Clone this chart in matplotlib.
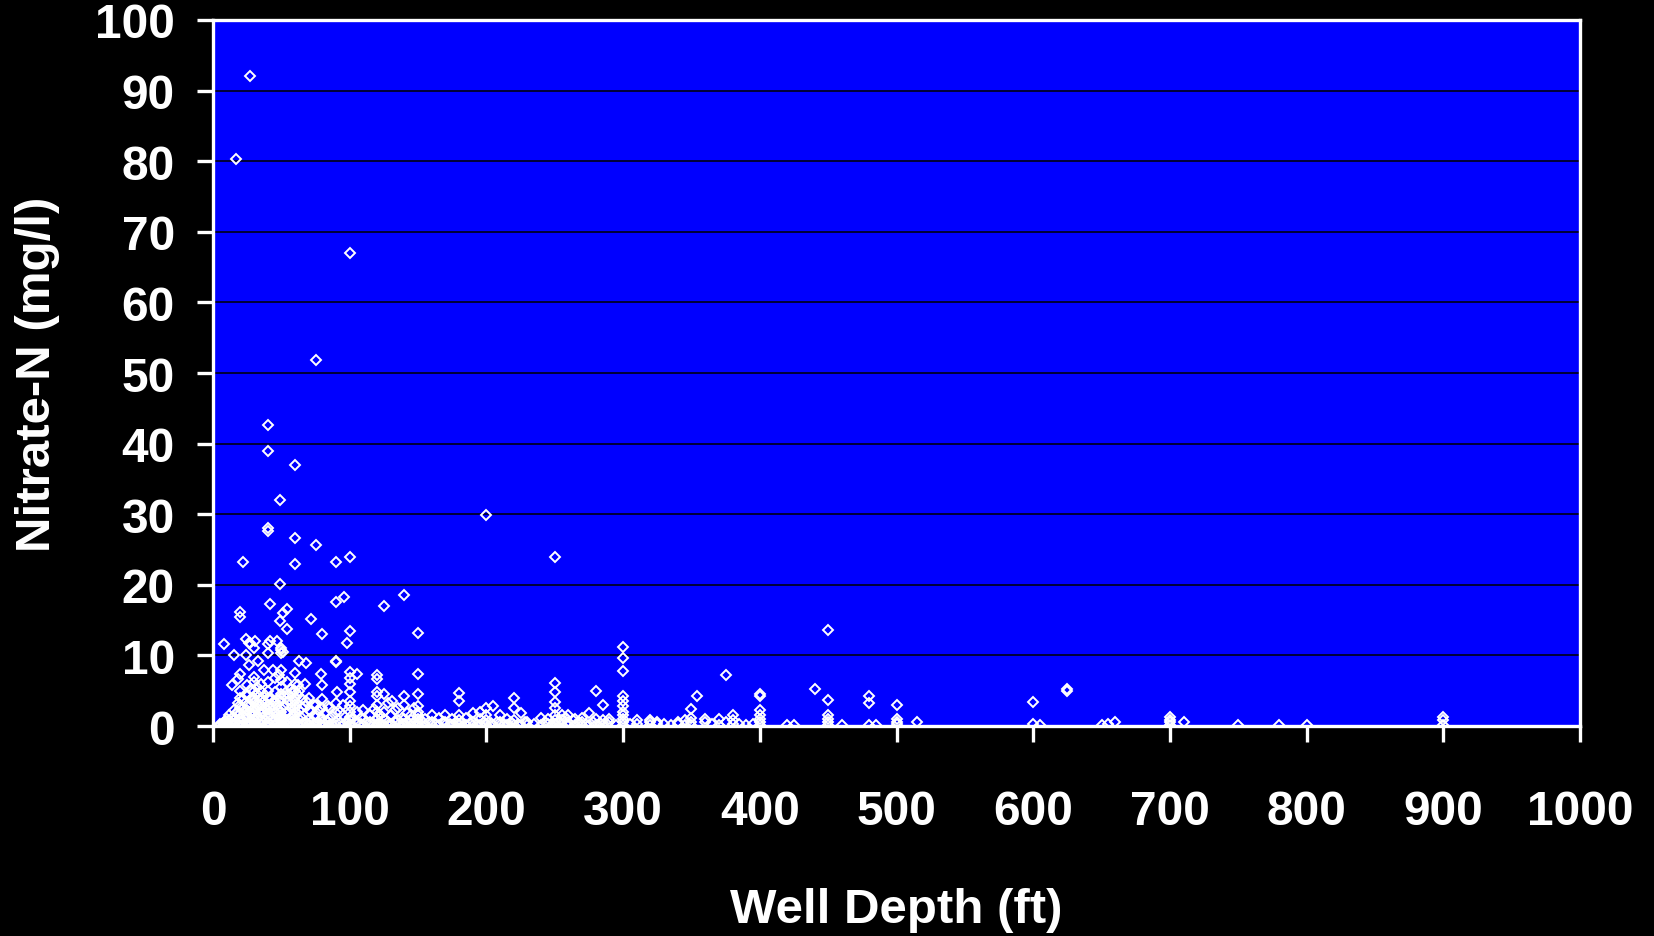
import numpy as np
import matplotlib
matplotlib.use('Agg')
import matplotlib.pyplot as plt

# well depth (ft) and nitrate-N readings (mg/l) at that depth
shallow_depth = [5, 7, 8, 10, 12, 14, 15, 17, 18, 20, 22, 24, 25, 26, 27, 28,
                 30, 31, 32, 33, 35, 37, 38, 40, 42, 44, 45, 47, 48, 49, 50, 51,
                 52, 54, 55, 57, 58, 60, 62, 63, 65, 67, 68, 70, 72, 74, 75, 77,
                 79, 80, 82, 84, 85, 87, 90, 91, 93, 95, 96, 98, 100]
shallow_no3 = [[0.2, 0.1, 0.3], [0.1, 0.4], [11.6, 0.5, 0.2], [1.0, 0.3, 0.1, 0.6],
               [0.8, 0.2, 1.5, 0.1], [5.8, 0.4, 1.2], [10.0, 1.0, 0.3, 2.2, 0.1],
               [80.3, 0.5, 1.8], [6.7, 2.0, 0.2, 3.2],
               [16.1, 15.5, 7.4, 5.0, 4.0, 3.0, 1.8, 0.5, 0.1, 2.5, 1.2],
               [23.2, 2.5, 0.8, 0.2, 3.8], [12.3, 10.0, 1.5, 0.3, 4.5],
               [5.8, 3.0, 1.2, 0.3, 0.1, 2.2, 4.2], [11.7, 8.6, 2.8, 0.6],
               [92.1, 11.8, 1.9, 0.2], [3.8, 1.5, 0.4, 5.2],
               [11.1, 7.0, 5.0, 4.0, 3.2, 2.0, 1.0, 0.4, 0.1, 6.2, 2.6, 1.5],
               [12.1, 0.8, 3.5], [5.5, 2.5, 0.2, 4.6], [9.2, 1.2, 3.0],
               [6.0, 4.0, 3.0, 1.8, 0.8, 0.3, 0.1, 5.0, 2.4], [7.9, 2.0, 0.5, 3.6],
               [2.5, 0.2, 4.4],
               [42.6, 38.9, 28.0, 27.6, 11.6, 10.4, 5.0, 3.0, 2.2, 1.2, 0.5, 0.1, 4.0, 6.2, 1.8],
               [17.3, 12.0, 4.0, 1.5, 0.3, 2.6], [8.0, 2.8, 0.6, 3.4],
               [6.8, 2.0, 1.0, 0.2, 3.5, 4.8], [12.1, 3.0, 0.4, 1.6], [7.2, 2.2, 0.8],
               [32.0, 20.1, 14.9, 1.2, 0.2],
               [11.0, 10.8, 10.4, 8.0, 5.5, 4.5, 3.5, 2.5, 1.5, 0.8, 0.3, 0.1, 6.5, 4.0, 2.0],
               [16.0, 10.5, 1.0], [4.2, 0.5, 2.8], [16.6, 13.8, 6.2, 1.8, 0.2],
               [3.5, 2.0, 0.8, 0.1, 4.6], [2.6, 0.4, 5.2], [4.8, 1.4, 0.2, 3.4],
               [36.9, 26.6, 22.9, 7.5, 6.0, 4.0, 3.0, 2.0, 1.0, 0.4, 0.1, 5.0, 2.5, 1.5, 3.5],
               [5.8, 1.2, 0.3, 4.4], [9.2, 5.0, 2.2], [2.5, 1.2, 0.2, 3.8], [6.0, 0.6, 2.8],
               [8.9, 3.5, 0.4], [4.0, 1.0, 0.3, 0.1, 2.2], [15.2, 2.0, 0.5], [3.0, 0.2, 1.4],
               [51.9, 25.6, 3.0, 1.5, 0.3], [2.2, 0.6], [7.4, 1.0, 0.2],
               [13.0, 5.8, 3.8, 2.5, 1.2, 0.5, 0.1], [1.8, 0.3], [2.8, 0.6], [2.5, 1.0, 0.2],
               [1.4, 0.3], [23.2, 17.5, 9.2, 9.0, 3.2, 1.8, 0.5, 0.1], [4.8], [2.0, 0.4],
               [3.0, 1.5, 0.2], [18.3], [11.7, 0.6],
               [67.0, 24.0, 13.5, 7.6, 5.9, 4.8, 3.5, 2.8, 2.0, 1.3, 0.8, 0.3, 0.1, 6.8]]

mid_depth = [102, 105, 108, 110, 112, 115, 118, 120, 122, 125, 128, 130, 131, 133,
             135, 138, 140, 142, 145, 147, 150, 152, 155, 158, 160, 163, 165, 168,
             170, 173, 175, 178, 180, 182, 185, 188, 190, 193, 195, 198, 200, 203,
             205, 208, 210, 213, 215, 218, 220, 223, 225, 228, 230, 235, 240, 243,
             245, 248]
mid_no3 = [[1.0, 0.2], [7.4, 2.0, 0.5], [1.2, 0.3], [2.2, 1.0, 0.2], [0.6],
           [1.5, 0.5, 0.1], [2.4, 0.3], [7.2, 6.7, 4.8, 4.3, 3.0, 2.0, 1.0, 0.3, 0.1],
           [1.6, 0.4], [17.0, 4.5, 2.0, 1.0, 0.2], [3.2, 0.6], [1.5, 0.3, 0.1], [3.6],
           [2.2, 0.5], [2.5, 0.8, 0.2], [1.2, 0.3], [18.6, 4.3, 3.0, 1.0, 0.3, 0.1],
           [1.8, 0.5], [1.5, 0.2, 0.8], [2.6, 0.4],
           [13.2, 7.3, 4.5, 2.8, 2.0, 1.5, 1.0, 0.5, 0.2, 0.1], [0.8], [1.0, 0.2], [0.5],
           [0.6, 1.5, 0.1], [0.3], [1.2, 0.2], [0.5], [0.5, 1.5, 0.1], [0.3], [1.0, 0.2],
           [0.6], [4.7, 3.6, 1.5, 0.8, 0.3, 0.1], [0.5], [1.2, 0.2], [0.4],
           [0.5, 1.8, 0.1], [0.3], [1.0, 2.0, 0.2], [0.6], [29.9, 2.5, 1.5, 0.8, 0.3, 0.1],
           [0.4], [2.9, 0.2], [0.5], [0.5, 1.5, 0.1], [0.3], [1.0, 0.2], [0.6],
           [3.9, 2.5, 0.8, 0.1], [0.3], [1.8, 0.2], [0.5], [0.5, 0.1], [0.3], [1.2, 0.2],
           [0.6], [1.0, 0.3], [0.1]]

deep_depth = [250, 253, 255, 258, 260, 263, 265, 268, 270, 273, 275, 278, 280, 283,
              285, 288, 290, 295, 300, 305, 310, 320, 325, 330, 335, 340, 345, 350,
              354, 360, 365, 370, 375, 380, 385, 390, 395, 400, 420, 425, 440, 450,
              460, 480, 485, 500, 515, 600, 605, 625, 650, 655, 660, 700, 710, 750,
              780, 800, 900]
deep_no3 = [[23.9, 6.1, 4.8, 3.4, 2.5, 1.5, 0.8, 0.3, 0.1], [0.5], [0.8, 1.6, 0.2],
            [1.2, 0.3], [1.5, 0.5, 0.1], [0.8], [1.0, 0.2], [0.5], [0.5, 1.2, 0.1], [0.3],
            [1.8, 0.2], [0.6], [4.9, 1.0, 0.2], [0.4], [3.0, 0.8, 0.1], [0.3], [0.5, 1.0],
            [0.2], [11.2, 9.7, 7.8, 4.2, 3.5, 2.8, 2.0, 1.5, 1.0, 0.5, 0.2], [0.3],
            [0.3, 0.8], [0.8, 0.5, 0.2], [0.5, 0.3], [0.3], [0.2], [0.3, 0.5], [0.8, 0.2],
            [2.4, 1.2, 0.5, 0.2], [4.3], [0.5, 1.0], [0.3], [1.0, 0.2], [7.2, 0.5],
            [1.5, 0.8, 0.3], [0.3], [0.2], [0.3], [4.6, 4.3, 2.2, 1.6, 1.0, 0.5, 0.2],
            [0.2], [0.2], [5.2], [13.6, 3.7, 1.5, 1.0, 0.5, 0.2], [0.2], [4.3, 3.3, 0.2],
            [0.2], [3.0, 1.0, 0.6, 0.3], [0.6], [3.4, 0.3], [0.2], [5.2, 4.9], [0.2],
            [0.3], [0.5], [1.3, 0.9, 0.5, 0.2], [0.5], [0.2], [0.2], [0.2], [1.3, 0.9, 0.2]]

x_ticks = list(range(0, 1001, 100))
y_ticks = list(range(0, 101, 10))

xs, ys = [], []
for dep, vals in [(shallow_depth, shallow_no3), (mid_depth, mid_no3), (deep_depth, deep_no3)]:
    for d, v in zip(dep, vals):
        xs.extend([d] * len(v))
        ys.extend(v)

plt.rcParams['font.family'] = ['Liberation Sans', 'DejaVu Sans']
plt.rcParams['font.weight'] = 'bold'

fig = plt.figure(figsize=(16.54, 9.37), dpi=100)
fig.patch.set_facecolor('black')
ax = fig.add_axes([0.1288, 0.2241, 0.8265, 0.7535])
ax.set_facecolor('#0000FF')

ax.plot(xs, ys, 'D', ms=5.6, mfc='none', mec='white', mew=1.4, zorder=3)

ax.set_xlim(0, 1000)
ax.set_ylim(0, 100)
ax.set_xticks(x_ticks)
ax.set_yticks(y_ticks)
ax.yaxis.grid(True, color='black', lw=1.1)
ax.set_axisbelow(True)
for s in ax.spines.values():
    s.set_color('white')
    s.set_linewidth(2.4)
    s.set_zorder(4)
ax.tick_params(axis='both', colors='white', width=2.4, length=11.5, labelsize=34.5)
ax.tick_params(axis='x', pad=34)
ax.tick_params(axis='y', pad=16)
for lab in ax.get_xticklabels() + ax.get_yticklabels():
    lab.set_fontweight('bold')

ax.set_xlabel('Well Depth (ft)', color='white', fontsize=35.5, fontweight='bold', labelpad=38)
ax.set_ylabel('Nitrate-N (mg/l)', color='white', fontsize=35.5, fontweight='bold', labelpad=25)

fig.savefig('out.png', dpi=100, facecolor='black')
